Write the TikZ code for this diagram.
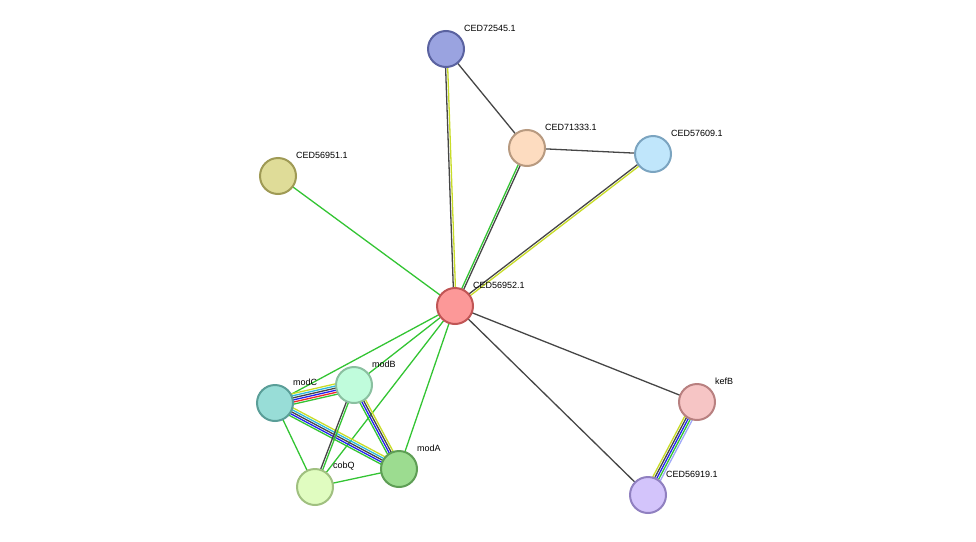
\documentclass[tikz,border=0pt]{standalone}
\usepackage{fontspec}
\setmainfont{Liberation Sans}
\usetikzlibrary{calc}
\definecolor{sgreen}{HTML}{33C433}
\definecolor{sblack}{HTML}{464646}
\definecolor{syellow}{HTML}{C8DC28}
\definecolor{scyan}{HTML}{2AB8E0}
\definecolor{sblue}{HTML}{2222F0}
\definecolor{sred}{HTML}{F02828}
\definecolor{slav}{HTML}{A0A8F8}
\tikzset{
  prot/.style={circle,minimum size=36pt,inner sep=0pt,line width=2pt},
  lbl/.style={anchor=west,font=\fontsize{9pt}{10pt}\selectfont,inner sep=0pt},
}
\newcommand{\pnode}[6]{%
  \definecolor{f#1}{HTML}{#4}\definecolor{b#1}{HTML}{#5}%
  \node[prot,fill=f#1,draw=b#1] (#1) at (#2,#3) {};
  \node[lbl] (l#1) at ($(#1)+(18,-21)$) {#6};}
% parallel colored lines
\newcommand{\medge}[4]{% a b n colors
  \foreach \c [count=\i] in {#4}{%
    \pgfmathsetmacro{\off}{(\i-1-(#3-1)/2)*2.1}%
    \draw[\c,line width=1.3pt] ($(#1)!\off pt!90:(#2)$) -- ($(#2)!\off pt!-90:(#1)$);
  }}
\begin{document}
\begin{tikzpicture}[x=1pt,y=-1pt]
\useasboundingbox (0,0) rectangle (976,541);
\coordinate (a72545) at (446,49);
\coordinate (a71333) at (527,148);
\coordinate (a57609) at (653,154);
\coordinate (a56951) at (278,176);
\coordinate (a56952) at (455,306);
\coordinate (amodC) at (275,403);
\coordinate (amodB) at (354,385);
\coordinate (amodA) at (399,469);
\coordinate (acobQ) at (315,487);
\coordinate (akefB) at (697,402);
\coordinate (a56919) at (648,495);
\medge{a72545}{a56952}{2}{sblack,syellow}
\medge{a72545}{a71333}{1}{sblack}
\medge{a71333}{a57609}{1}{sblack}
\medge{a71333}{a56952}{2}{sgreen,sblack}
\medge{a57609}{a56952}{2}{sblack,syellow}
\medge{a56951}{a56952}{1}{sgreen}
\medge{a56952}{amodC}{1}{sgreen}
\medge{a56952}{amodB}{1}{sgreen}
\medge{a56952}{amodA}{1}{sgreen}
\medge{a56952}{acobQ}{1}{sgreen}
\medge{a56952}{akefB}{1}{sblack}
\medge{a56952}{a56919}{1}{sblack}
\medge{amodC}{amodB}{6}{sgreen,sred,sblue,sblack,scyan,syellow}
\medge{amodC}{amodA}{5}{sgreen,sblue,sblack,scyan,syellow}
\medge{amodB}{amodA}{4}{sgreen,sblue,sblack,syellow}
\medge{amodB}{acobQ}{2}{sblack,sgreen}
\medge{amodC}{acobQ}{1}{sgreen}
\medge{acobQ}{amodA}{1}{sgreen}
\medge{akefB}{a56919}{5}{syellow,sblack,sblue,sgreen,slav}
\pnode{n72545}{446}{49}{9AA3E0}{5A62A0}{CED72545.1}
\pnode{n71333}{527}{148}{FDDCC0}{B89A80}{CED71333.1}
\pnode{n57609}{653}{154}{C0E6FB}{7BA4C0}{CED57609.1}
\pnode{n56951}{278}{176}{DFDC98}{9F9A55}{CED56951.1}
\pnode{n56952}{455}{306}{FC9898}{C05555}{CED56952.1}
\pnode{modC}{275}{403}{98DDD7}{5A9E98}{modC}
\pnode{modB}{354}{385}{C0FCDC}{8AC0A0}{modB}
\pnode{modA}{399}{469}{9CDC90}{5E9E55}{modA}
\pnode{cobQ}{315}{487}{E0FCC0}{A0C080}{cobQ}
\pnode{kefB}{697}{402}{F6C5C5}{B88080}{kefB}
\pnode{n56919}{648}{495}{D3C4FB}{9080C0}{CED56919.1}
\end{tikzpicture}
\end{document}
